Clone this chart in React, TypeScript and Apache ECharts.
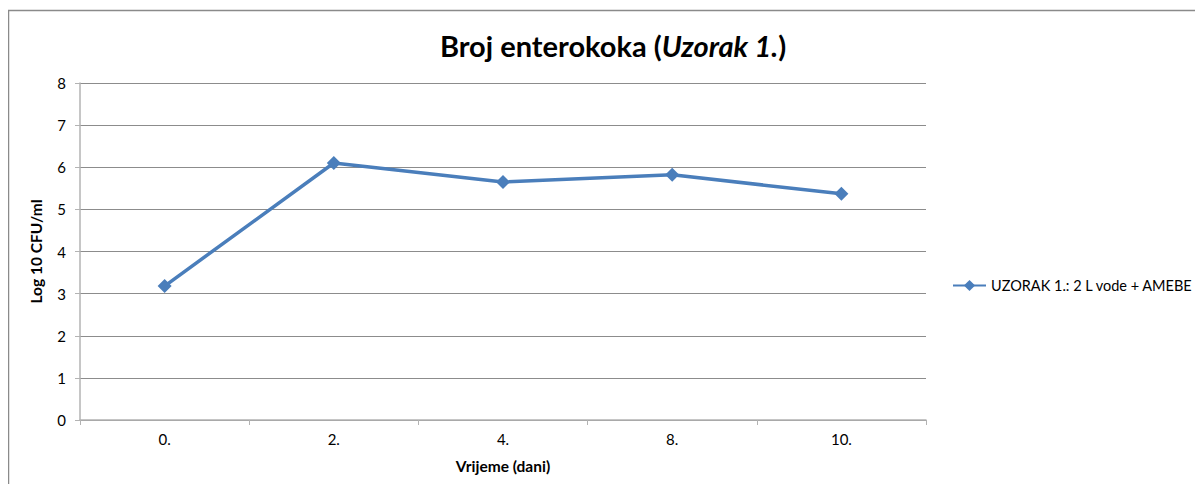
import React, { useEffect, useRef } from "react";
import * as echarts from "echarts";

const categories = ["0.", "2.", "4.", "8.", "10."];
const seriesName = "UZORAK 1.: 2 L vode + AMEBE";
const values = [3.18, 6.1, 5.65, 5.82, 5.37];
const yTicks = [0, 1, 2, 3, 4, 5, 6, 7, 8];

const FONT = "Lato, 'Open Sans', sans-serif";

export default function App() {
  const ref = useRef<HTMLDivElement>(null);
  useEffect(() => {
    if (!ref.current) return;
    const chart = echarts.init(ref.current, null, { renderer: "svg" });
    chart.setOption({
      animation: false,
      backgroundColor: "#ffffff",
      textStyle: { fontFamily: FONT },
      graphic: [
        {
          type: "rect",
          shape: { x: 0.5, y: 2.5, width: 1300, height: 600 },
          style: { fill: "none", stroke: "#8a8a8a", lineWidth: 1.5 },
          silent: true,
        },
      ],
      title: {
        text: "{b|Broj enterokoka (}{i|Uzorak 1.}{b|)}",
        left: 600,
        top: 18,
        textAlign: "center",
        textStyle: {
          rich: {
            b: { fontFamily: FONT, fontWeight: "bold", fontSize: 29, color: "#000" },
            i: { fontFamily: FONT, fontWeight: "bold", fontStyle: "italic", fontSize: 29, color: "#000" },
          },
        },
      },
      legend: {
        data: [seriesName],
        orient: "vertical",
        left: 939,
        top: 265,
        itemWidth: 33,
        itemHeight: 14,
        itemGap: 5,
        textStyle: { fontFamily: FONT, fontSize: 14.5, color: "#000" },
      },
      grid: { left: 72, top: 75, right: 277, bottom: 64, containLabel: false },
      xAxis: {
        type: "category",
        data: categories,
        boundaryGap: true,
        name: "Vrijeme (dani)",
        nameLocation: "middle",
        nameGap: 38,
        nameTextStyle: { fontFamily: FONT, fontWeight: "bold", fontSize: 15.5, color: "#000" },
        axisLine: { lineStyle: { color: "#b3b3b3", width: 1.5 } },
        axisTick: { show: true, length: 5, inside: false, alignWithLabel: false, lineStyle: { color: "#b3b3b3" } },
        axisLabel: { fontFamily: FONT, fontSize: 15, color: "#000", margin: 11 },
        splitLine: { show: false },
      },
      yAxis: {
        type: "value",
        min: 0,
        max: 8,
        interval: 1,
        name: "Log 10 CFU/ml",
        nameLocation: "middle",
        nameGap: 36,
        nameRotate: 90,
        nameTextStyle: { fontFamily: FONT, fontWeight: "bold", fontSize: 15.5, color: "#000" },
        axisLine: { show: true, lineStyle: { color: "#b3b3b3", width: 1.5 } },
        axisTick: { show: true, length: 5, lineStyle: { color: "#b3b3b3" } },
        axisLabel: {
          fontFamily: FONT,
          fontSize: 15,
          color: "#000",
          margin: 14,
          formatter: (v: number) => (yTicks.includes(v) ? String(v) : ""),
        },
        splitLine: { show: true, lineStyle: { color: "#8c8c8c", width: 1 } },
      },
      series: [
        {
          name: seriesName,
          type: "line",
          data: values,
          symbol: "diamond",
          symbolSize: 14,
          itemStyle: { color: "#4a7ebb" },
          lineStyle: { color: "#4a7ebb", width: 3.5 },
        },
      ],
    });
    return () => chart.dispose();
  }, []);
  return <div ref={ref} style={{ width: 1195, height: 476 }} />;
}
